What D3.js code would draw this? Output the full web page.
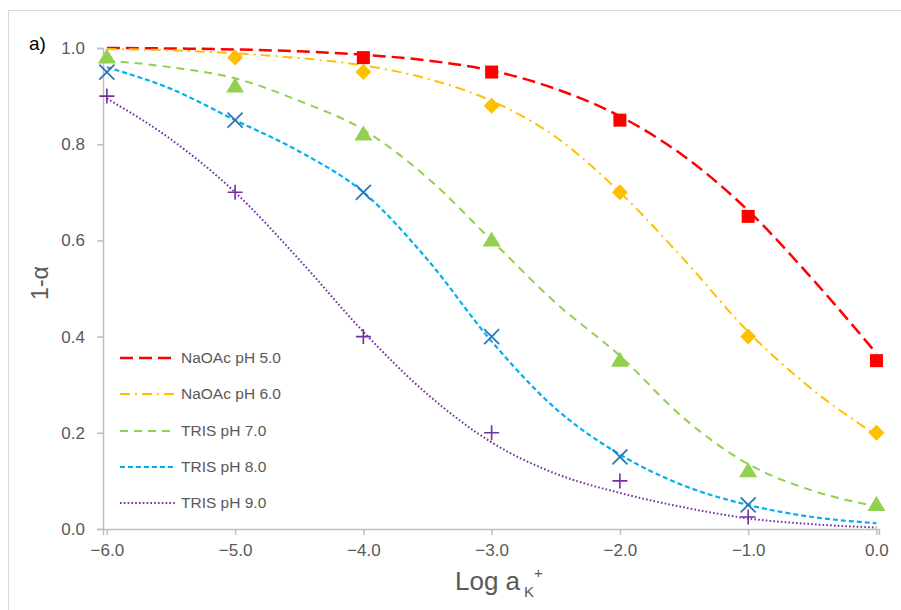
<!DOCTYPE html>
<html>
<head>
<meta charset="utf-8">
<script src="https://cdn.jsdelivr.net/npm/d3@7"></script>
<style>
  html, body { margin: 0; padding: 0; background: #fff; }
  svg { display: block; }
</style>
</head>
<body>
<svg id="chart" width="901" height="610"></svg>
<script>
// ---------------- DATA ----------------
const seriesNames = ["NaOAc pH 5.0", "NaOAc pH 6.0", "TRIS pH 7.0", "TRIS pH 8.0", "TRIS pH 9.0"];

// measured points (log a_K+, 1-alpha)
const ptsX_pH5 = [-4, -3, -2, -1, 0];
const ptsY_pH5 = [0.98, 0.95, 0.85, 0.65, 0.35];
const ptsX_pH6 = [-5, -4, -3, -2, -1, 0];
const ptsY_pH6 = [0.98, 0.95, 0.88, 0.70, 0.40, 0.20];
const ptsX_pH7 = [-6, -5, -4, -3, -2, -1, 0];
const ptsY_pH7 = [0.98, 0.92, 0.82, 0.60, 0.35, 0.12, 0.05];
const ptsX_pH8 = [-6, -5, -4, -3, -2, -1];
const ptsY_pH8 = [0.95, 0.85, 0.70, 0.40, 0.15, 0.05];
const ptsX_pH9 = [-6, -5, -4, -3, -2, -1];
const ptsY_pH9 = [0.90, 0.70, 0.40, 0.20, 0.10, 0.025];

// fitted curves at half-decade steps
const curveX = [-6, -5.5, -5, -4.5, -4, -3.5, -3, -2.5, -2, -1.5, -1, -0.5, 0];
const curveY_pH5 = [1.0, 0.999, 0.997, 0.993, 0.986, 0.974, 0.953, 0.915, 0.858, 0.775, 0.662, 0.52, 0.365];
const curveY_pH6 = [0.998, 0.995, 0.989, 0.979, 0.964, 0.936, 0.89, 0.815, 0.70, 0.56, 0.41, 0.29, 0.195];
const curveY_pH7 = [0.974, 0.96, 0.937, 0.89, 0.83, 0.73, 0.60, 0.47, 0.36, 0.23, 0.135, 0.08, 0.047];
const curveY_pH8 = [0.96, 0.915, 0.85, 0.785, 0.70, 0.56, 0.39, 0.25, 0.155, 0.09, 0.05, 0.025, 0.012];
const curveY_pH9 = [0.895, 0.81, 0.70, 0.56, 0.41, 0.28, 0.18, 0.115, 0.075, 0.045, 0.022, 0.01, 0.003];

const xTicks = [-6, -5, -4, -3, -2, -1, 0];
const yTicks = [0, 0.2, 0.4, 0.6, 0.8, 1.0];

// ---------------- STYLE ----------------
const colors = ["#FF0000", "#FFC000", "#92D050", "#00B0F0", "#7030A0"];
const markerColors = ["#FF0000", "#FFC000", "#92D050", "#2E75B6", "#7030A0"];
const dashes = ["13,6", "10,5,2,5", "8,6", "5,3", "1.6,2.2"];
const widths = [2.5, 2, 2, 2.2, 2];
const markers = ["square", "diamond", "triangle", "x", "plus"];

const svg = d3.select("#chart");
const font = "'Liberation Sans', Arial, sans-serif";
const gray = "#595959";
const axisGray = "#BFBFBF";

// frame
svg.append("rect").attr("x", 8.5).attr("y", 10.5).attr("width", 1000).attr("height", 1000)
  .attr("fill", "none").attr("stroke", "#D9D9D9").attr("stroke-width", 1);

const x = d3.scaleLinear().domain([-6.03, 0.02]).range([103, 879]);
const y = d3.scaleLinear().domain([0, 1]).range([529, 48]);

// y axis
const yAxis = d3.axisLeft(y).tickValues(yTicks).tickFormat(d3.format(".1f")).tickSize(6).tickPadding(12);
const gy = svg.append("g").attr("transform", `translate(${x.range()[0]},0)`).call(yAxis);
gy.select(".domain").attr("stroke", axisGray).attr("stroke-width", 1.5);
gy.selectAll(".tick line").attr("stroke", axisGray).attr("stroke-width", 1.5);
gy.selectAll(".tick text").attr("fill", gray).style("font-family", font).style("font-size", "17px");

// x axis
const xAxis = d3.axisBottom(x).tickValues(xTicks).tickFormat(d3.format(".1f")).tickSize(6).tickPadding(9);
const gx = svg.append("g").attr("transform", `translate(0,${y(0)})`).call(xAxis);
gx.select(".domain").attr("stroke", axisGray).attr("stroke-width", 1.5);
gx.selectAll(".tick line").attr("stroke", axisGray).attr("stroke-width", 1.5);
gx.selectAll(".tick text").attr("fill", gray).style("font-family", "'Liberation Sans Narrow', " + font).style("font-size", "17px");

// curves
const curves = [curveY_pH5, curveY_pH6, curveY_pH7, curveY_pH8, curveY_pH9];
const line = d3.line().x(d => x(d[0])).y(d => y(d[1])).curve(d3.curveMonotoneX);
curves.forEach((cy, i) => {
  svg.append("path")
    .datum(curveX.map((xv, k) => [xv, cy[k]]))
    .attr("d", line)
    .attr("fill", "none")
    .attr("stroke", colors[i])
    .attr("stroke-width", widths[i])
    .attr("stroke-dasharray", dashes[i]);
});

// markers
const ptsX = [ptsX_pH5, ptsX_pH6, ptsX_pH7, ptsX_pH8, ptsX_pH9];
const ptsY = [ptsY_pH5, ptsY_pH6, ptsY_pH7, ptsY_pH8, ptsY_pH9];
function drawMarker(g, type, cx, cy, col) {
  if (type === "square") {
    g.append("rect").attr("x", cx - 6.5).attr("y", cy - 6.5).attr("width", 13).attr("height", 13).attr("fill", col);
  } else if (type === "diamond") {
    const r = 8;
    g.append("path").attr("d", `M${cx},${cy - r}L${cx + r},${cy}L${cx},${cy + r}L${cx - r},${cy}Z`).attr("fill", col);
  } else if (type === "triangle") {
    const w = 9, h = 15;
    g.append("path").attr("d", `M${cx},${cy - h * 0.6}L${cx + w},${cy + h * 0.4}L${cx - w},${cy + h * 0.4}Z`).attr("fill", col);
  } else if (type === "x") {
    const r = 7.5;
    g.append("path").attr("d", `M${cx - r},${cy - r}L${cx + r},${cy + r}M${cx - r},${cy + r}L${cx + r},${cy - r}`)
      .attr("stroke", col).attr("stroke-width", 1.8).attr("fill", "none");
  } else if (type === "plus") {
    const r = 7.5;
    g.append("path").attr("d", `M${cx - r},${cy}L${cx + r},${cy}M${cx},${cy - r}L${cx},${cy + r}`)
      .attr("stroke", col).attr("stroke-width", 1.6).attr("fill", "none");
  }
}
const gm = svg.append("g");
ptsX.forEach((xs, i) => {
  xs.forEach((xv, k) => drawMarker(gm, markers[i], x(xv), y(ptsY[i][k]), markerColors[i]));
});

// legend
const legendY = [358, 394, 431, 467, 503];
const lg = svg.append("g");
seriesNames.forEach((name, i) => {
  lg.append("line").attr("x1", 120).attr("x2", 175).attr("y1", legendY[i]).attr("y2", legendY[i])
    .attr("stroke", colors[i]).attr("stroke-width", widths[i]).attr("stroke-dasharray", dashes[i]);
  lg.append("text").attr("x", 181).attr("y", legendY[i]).attr("dy", "0.35em")
    .attr("fill", gray).style("font-family", font).style("font-size", "15.5px").text(name);
});

// panel label
svg.append("text").attr("x", 29).attr("y", 50).attr("fill", "#000")
  .style("font-family", font).style("font-size", "19px").text("a)");

// y title
svg.append("text").attr("transform", "translate(48,283) rotate(-90)").attr("text-anchor", "middle")
  .attr("fill", gray).style("font-family", font).style("font-size", "23px").text("1-α");

// x title
const xt = svg.append("text").attr("x", 455).attr("y", 590).attr("text-anchor", "start")
  .attr("fill", gray).style("font-family", "'Liberation Sans Narrow', " + font).style("font-size", "26px");
xt.append("tspan").text("Log a");
xt.append("tspan").attr("dx", 4).attr("dy", 7).style("font-size", "15px").text("K");
xt.append("tspan").attr("dx", 0).attr("dy", -19).style("font-size", "15px").text("+");
</script>
</body>
</html>
